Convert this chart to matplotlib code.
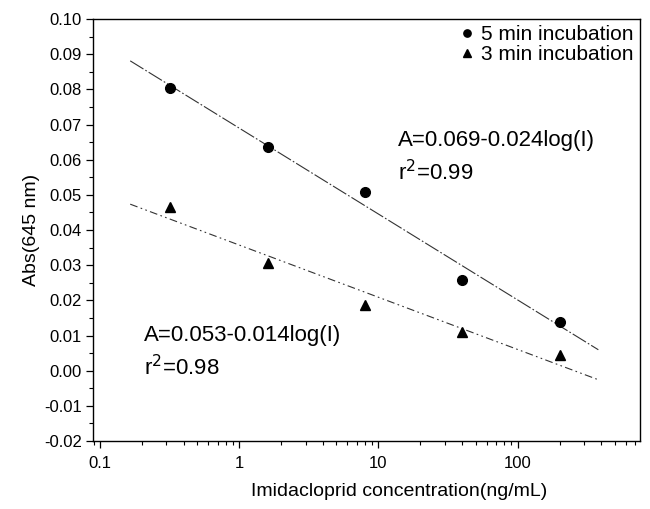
import matplotlib
matplotlib.use("Agg")
import matplotlib.pyplot as plt
import numpy as np
from matplotlib.ticker import LogLocator, MultipleLocator, FixedLocator, NullFormatter

plt.rcParams["font.family"] = ["Liberation Sans", "DejaVu Sans"]

# imidacloprid concentration (ng/mL)
conc = [0.32, 1.6, 8.0, 40.0, 200.0]
abs_5min = [0.0804, 0.0636, 0.0509, 0.0258, 0.0139]
abs_3min = [0.0466, 0.0307, 0.0187, 0.0111, 0.0045]
fit_range = [0.165, 380.0]

fig = plt.figure(figsize=(6.5, 5.09), dpi=100)
ax = fig.add_axes([0.143, 0.1336, 0.842, 0.829])

logc = np.log10(conc)
xf = np.logspace(np.log10(fit_range[0]), np.log10(fit_range[1]), 50)
for y, dash in ((abs_5min, (14, 2, 1.5, 2)), (abs_3min, (7, 3, 1.5, 3, 1.5, 3))):
    slope, icpt = np.polyfit(logc, y, 1)
    ax.plot(xf, icpt + slope * np.log10(xf), color="#333333", lw=0.8,
            dashes=dash)

ax.plot(conc, abs_5min, "o", color="black", ms=7, ls="none",
        label="5 min incubation")
ax.plot(conc, abs_3min, "^", color="black", ms=7, ls="none",
        label="3 min incubation")

ax.set_xscale("log")
ax.set_xlim(0.0891, 760)
ax.set_ylim(-0.02, 0.10)
ax.xaxis.set_major_locator(FixedLocator([0.1, 1, 10, 100]))
ax.xaxis.set_minor_locator(LogLocator(base=10, subs=np.arange(2, 10)))
ax.xaxis.set_minor_formatter(NullFormatter())
ax.set_xticklabels(["0.1", "1", "10", "100"])
ax.yaxis.set_major_locator(MultipleLocator(0.01))
ax.yaxis.set_minor_locator(MultipleLocator(0.005))
ax.yaxis.set_major_formatter(lambda v, p: f"{v:.2f}")

ax.tick_params(which="major", direction="out", length=5, width=0.9,
               labelsize=12, top=False, right=False, pad=3)
ax.tick_params(axis="x", which="major", pad=6)
ax.tick_params(which="minor", direction="out", length=3, width=0.8,
               top=False, right=False)
for s in ax.spines.values():
    s.set_linewidth(1.0)

ax.set_xlabel("Imidacloprid concentration(ng/mL)", fontsize=14)
ax.xaxis.set_label_coords(0.56, -0.1)
ax.set_ylabel("Abs(645 nm)", fontsize=14, labelpad=3)

ax.text(0.558, 0.713, "A=0.069-0.024log(I)", transform=ax.transAxes,
        fontsize=16, ha="left", va="center")
ax.text(0.558, 0.637, "r$^2$=0.99", transform=ax.transAxes, fontsize=16,
        ha="left", va="center")
ax.text(0.093, 0.251, "A=0.053-0.014log(I)", transform=ax.transAxes,
        fontsize=16, ha="left", va="center")
ax.text(0.093, 0.175, "r$^2$=0.98", transform=ax.transAxes, fontsize=16,
        ha="left", va="center")

ax.legend(loc="upper right", bbox_to_anchor=(1.01, 1.015), frameon=False,
          fontsize=15, handletextpad=0.15, markerscale=0.75, borderaxespad=0.2,
          labelspacing=0.05, handlelength=1.0)

fig.savefig("out.png", dpi=100)
